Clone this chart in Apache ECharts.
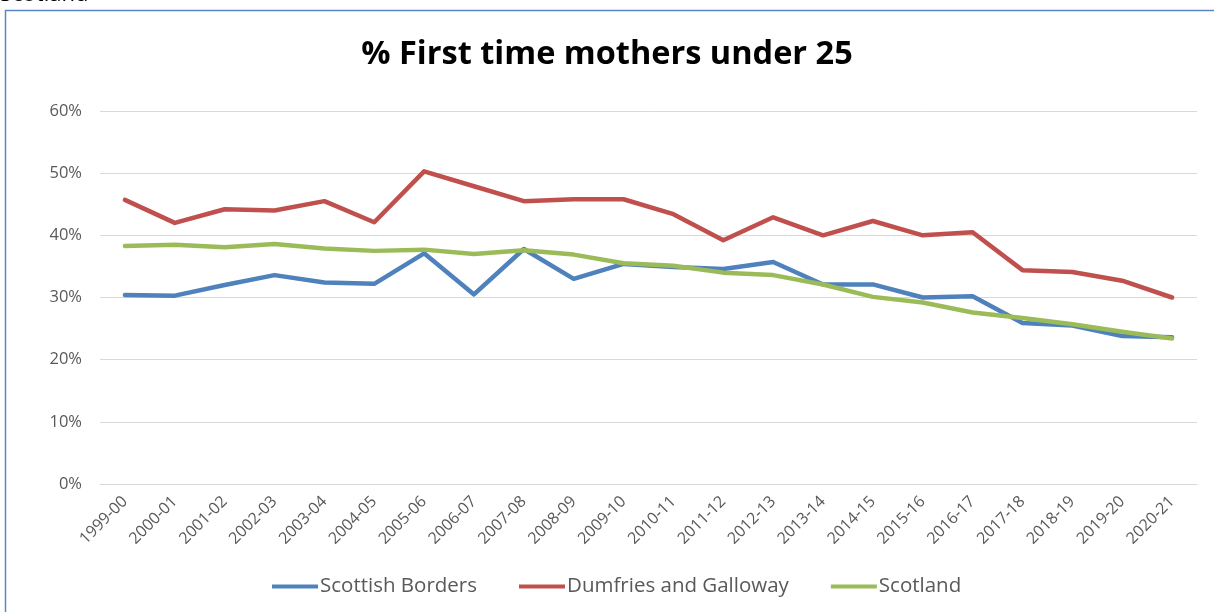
<!DOCTYPE html>
<html>
<head>
<meta charset="utf-8">
<script src="https://cdn.jsdelivr.net/npm/echarts@6/dist/echarts.min.js"></script>
<style>
html,body{margin:0;padding:0;background:#fff;}
#c{width:1214px;height:612px;}
</style>
</head>
<body>
<div id="c"></div>
<script>
const categories = ['1999-00','2000-01','2001-02','2002-03','2003-04','2004-05','2005-06','2006-07','2007-08','2008-09','2009-10','2010-11','2011-12','2012-13','2013-14','2014-15','2015-16','2016-17','2017-18','2018-19','2019-20','2020-21'];
const scottishBorders = [30.4,30.3,32.0,33.6,32.4,32.2,37.1,30.5,37.8,33.0,35.4,34.9,34.6,35.7,32.1,32.1,30.0,30.2,25.9,25.5,23.8,23.6];
const dumfriesGalloway = [45.7,42.0,44.2,44.0,45.5,42.1,50.3,47.9,45.5,45.8,45.8,43.4,39.2,42.9,40.0,42.3,40.0,40.5,34.4,34.1,32.7,30.0];
const scotland = [38.3,38.5,38.1,38.6,37.9,37.5,37.7,37.0,37.6,36.9,35.5,35.1,34.0,33.6,32.1,30.1,29.2,27.6,26.7,25.7,24.5,23.4];
const seriesNames = ['Scottish Borders','Dumfries and Galloway','Scotland'];
const colors = ['#4f81bd','#c0504d','#9bbb59'];

const font = '"Open Sans", "Liberation Sans", sans-serif';
const chart = echarts.init(document.getElementById('c'));
const mk = (name, data, color) => ({
  name, type: 'line', data, symbol: 'none', smooth: false,
  lineStyle: {width: 4.5, color, cap: 'round', join: 'round'},
  itemStyle: {color}
});
chart.setOption({
  animation: false,
  graphic: [
    {type: 'rect', shape: {x: 5.5, y: 10.5, width: 1220, height: 620}, style: {fill: 'none', stroke: '#5b86c5', lineWidth: 1.5}},
    {type: 'text', left: 0, top: -16, style: {text: 'Scotland', font: '22px ' + font, fill: '#000'}}
  ],
  title: {
    text: '% First time mothers under 25', left: 'center', top: 33,
    textStyle: {fontFamily: font, fontSize: 32.5, fontWeight: 'bold', color: '#000'}
  },
  legend: {
    bottom: 10, left: 267, itemWidth: 46, itemHeight: 4, itemGap: 42,
    icon: 'rect',
    textStyle: {fontFamily: font, fontSize: 20.5, color: '#595959', padding: [0,0,0,-3]},
    data: seriesNames
  },
  grid: {left: 100, right: 17, top: 111, bottom: 128, containLabel: false},
  xAxis: {
    type: 'category', data: categories, boundaryGap: true,
    axisLine: {lineStyle: {color: '#d9d9d9', width: 1}},
    axisTick: {show: false},
    axisLabel: {rotate: 45, fontFamily: font, fontSize: 16, color: '#595959', margin: 15, interval: 0}
  },
  yAxis: {
    type: 'value', min: 0, max: 60, interval: 10,
    axisLine: {show: false}, axisTick: {show: false},
    axisLabel: {formatter: '{value}%', fontFamily: font, fontSize: 16.5, color: '#595959', margin: 18},
    splitLine: {lineStyle: {color: '#d9d9d9', width: 1}}
  },
  series: [
    mk(seriesNames[0], scottishBorders, colors[0]),
    mk(seriesNames[1], dumfriesGalloway, colors[1]),
    mk(seriesNames[2], scotland, colors[2])
  ]
});
</script>
</body>
</html>
